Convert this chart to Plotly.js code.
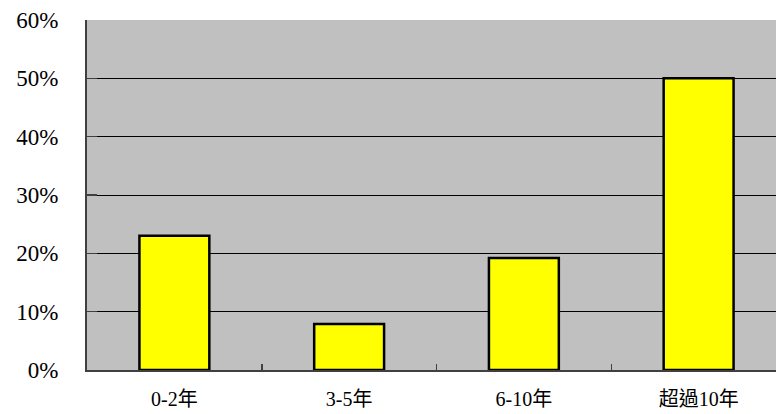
<!DOCTYPE html>
<html><head><meta charset="utf-8">
<script src="https://cdn.plot.ly/plotly-3.0.1.min.js"></script>
<style>html,body{margin:0;padding:0;overflow:hidden;background:#fff}</style>
</head><body><div id="chart"></div>
<script>
const categories = ["0-2年", "3-5年", "6-10年", "超過10年"];
const shares = [0.23, 0.079, 0.192, 0.50];
const yTickValues = [0, 0.1, 0.2, 0.3, 0.4, 0.5, 0.6];
const yTickLabels = ["0%", "10%", "20%", "30%", "40%", "50%", "60%"];

const font = "'Liberation Serif', 'Noto Sans CJK TC', serif";
Plotly.newPlot("chart", [{
  type: "bar", x: categories, y: shares, width: 0.4,
  marker: {color: "#FFFF00", line: {color: "#000", width: 2.5}},
  hoverinfo: "skip"
}], {
  width: 788, height: 414,
  margin: {l: 87, r: 2, t: 20, b: 44},
  paper_bgcolor: "#fff", plot_bgcolor: "#C0C0C0",
  showlegend: false, bargap: 0.6,
  xaxis: {type: "category", showgrid: false, showline: true, linecolor: "#404040", linewidth: 2,
    ticks: "inside", tickson: "boundaries", ticklen: 6, tickcolor: "#404040", tickwidth: 1.5,
    tickfont: {family: font, size: 20, color: "#000"}, ticklabelstandoff: 10},
  yaxis: {range: [0, 0.6], tickvals: yTickValues, ticktext: yTickLabels,
    showgrid: true, gridcolor: "#000", gridwidth: 1, zeroline: false,
    showline: true, linecolor: "#404040", linewidth: 2, mirror: false,
    ticks: "inside", ticklen: 10, tickcolor: "#404040", tickwidth: 1.5,
    tickfont: {family: font, size: 23, color: "#000"}, ticklabelstandoff: 22}
}, {displayModeBar: false, staticPlot: true});
</script></body></html>
